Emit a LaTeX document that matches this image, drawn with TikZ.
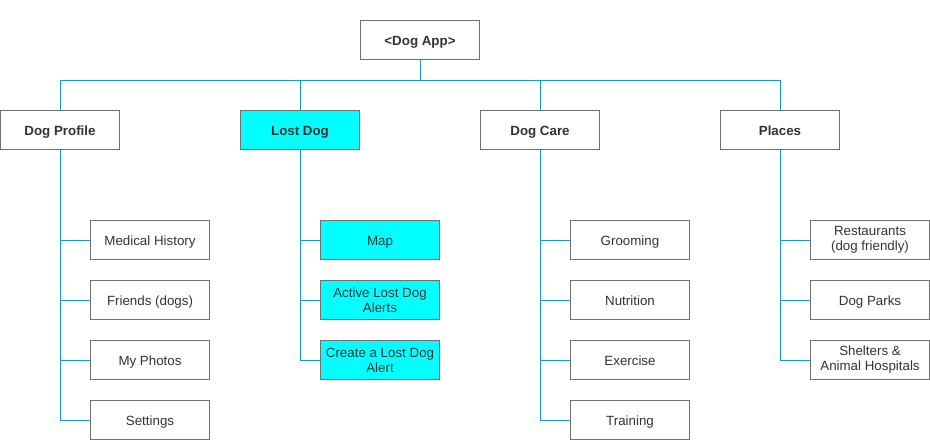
\documentclass[tikz,border=0pt]{standalone}
\usepackage[table,xcdraw]{xcolor}
\usepackage{fontspec}
\setmainfont{Liberation Sans}
\usepackage{tikz}

\definecolor{BoxLine}{HTML}{707070}
\definecolor{LinkLine}{HTML}{1A9BCF}
\definecolor{LostFill}{HTML}{00FFFF}
\definecolor{TextGray}{HTML}{333333}

\begin{document}
\begin{tikzpicture}
    [x=0.75pt, y=-0.75pt,
     Node/.style={rectangle, draw=BoxLine, line width=0.75pt, fill=white, text=TextGray,
        minimum width=89.25pt, minimum height=29.25pt, inner sep=1pt, align=center,
        text height=1em, text depth=0.22em,
        font=\fontsize{10}{11.2}\selectfont},
     Two/.style={text height={}, text depth={}},
     Head/.style={Node, font=\fontsize{10}{11.2}\selectfont\bfseries},
     Lost/.style={fill=LostFill},
     Link/.style={draw=LinkLine, line width=0.75pt}]
	\useasboundingbox (0, 0) rectangle (930, 440);
	% root and top level
	\node[Head] (App) at (420, 40) {<Dog App>};
	\coordinate (Bus) at (420, 80);
	\node[Head] (DP) at (60, 130) {Dog Profile};
	\node[Head, Lost] (LD) at (300, 130) {Lost Dog};
	\node[Head] (DC) at (540, 130) {Dog Care};
	\node[Head] (PL) at (780, 130) {Places};
	% children
	\node[Node] (DP-a) at (150, 240) {Medical History};
	\node[Node] (DP-b) at (150, 300) {Friends (dogs)};
	\node[Node] (DP-c) at (150, 360) {My Photos};
	\node[Node] (DP-d) at (150, 420) {Settings};
	\node[Node, Lost] (LD-a) at (380, 240) {Map};
	\node[Node, Two, Lost] (LD-b) at (380, 300) {Active Lost Dog\\Alerts};
	\node[Node, Two, Lost] (LD-c) at (380, 360) {Create a Lost Dog\\Alert};
	\node[Node] (DC-a) at (630, 240) {Grooming};
	\node[Node] (DC-b) at (630, 300) {Nutrition};
	\node[Node] (DC-c) at (630, 360) {Exercise};
	\node[Node] (DC-d) at (630, 420) {Training};
	\node[Node, Two] (PL-a) at (870, 240) {Restaurants\\(dog friendly)};
	\node[Node] (PL-b) at (870, 300) {Dog Parks};
	\node[Node, Two] (PL-c) at (870, 360) {Shelters \&\\Animal Hospitals};
	% links
	\draw[Link] (App.south) -- (Bus);
	\foreach \p in {DP, LD, DC, PL}
		\draw[Link] (Bus) -| (\p.north);
	\foreach \c in {a,b,c,d}
		\draw[Link] (DP.south) |- (DP-\c.west);
	\foreach \c in {a,b,c}
		\draw[Link] (LD.south) |- (LD-\c.west);
	\foreach \c in {a,b,c,d}
		\draw[Link] (DC.south) |- (DC-\c.west);
	\foreach \c in {a,b,c}
		\draw[Link] (PL.south) |- (PL-\c.west);
\end{tikzpicture}
\end{document}
